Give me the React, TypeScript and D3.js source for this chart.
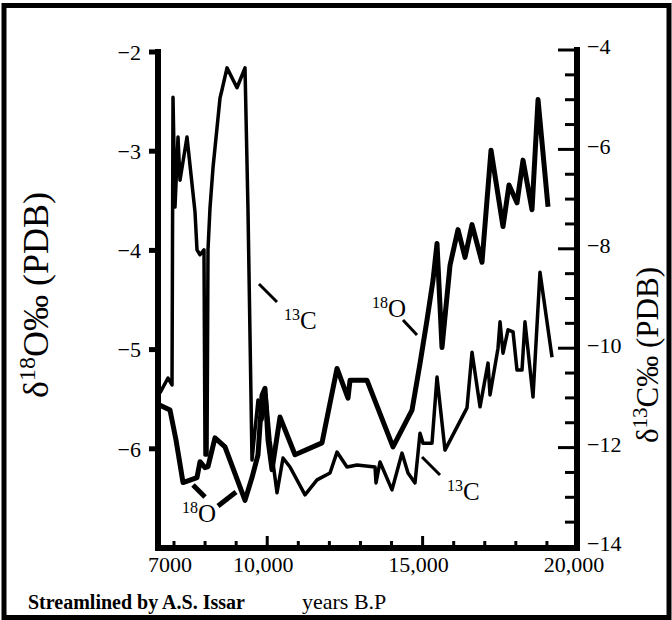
import React from 'react';
import * as d3 from 'd3';

// δ18O (thick line, left axis)
const o18Years = [
  6549, 6871, 7064, 7290, 7740, 7837, 7998, 8094, 8319, 8641, 9285, 9510, 9703, 9832, 9928,
  10025, 10154, 10411, 10894, 11763, 12245, 12599, 12664, 13211, 14047, 14659, 14916, 15142,
  15335, 15463, 15624, 15882, 16139, 16364, 16590, 16911, 17201, 17587, 17780, 18037, 18231,
  18520, 18714, 19035,
];
const o18Values = [
  -5.56, -5.61, -5.91, -6.34, -6.29, -6.13, -6.19, -6.18, -5.89, -5.98, -6.52, -6.29, -6.06, -5.46, -5.39,
  -5.91, -6.21, -5.68, -6.06, -5.94, -5.19, -5.49, -5.31, -5.31, -5.98, -5.61, -5.14, -4.7,
  -4.3, -3.93, -4.98, -4.15, -3.79, -4.07, -3.74, -4.12, -2.99, -3.76, -3.34, -3.52, -3.09,
  -3.59, -2.48, -3.56,
];

// δ13C (thinner line, right axis)
const c13Years = [
  6549, 6807, 6936, 6968, 7032, 7129, 7193, 7418, 7676, 7740, 7837, 7965, 7998, 8062, 8094,
  8158, 8255, 8480, 8545, 8706, 9027, 9285, 9381, 9510, 9703, 9832, 9961, 10089, 10315, 10508,
  10733, 11216, 11602, 12020, 12245, 12567, 12889, 13468, 13500, 13629, 14015, 14337, 14530,
  14755, 14916, 15013, 15302, 15463, 15720, 16428, 16590, 16847, 17105, 17169, 17426, 17491,
  17587, 17748, 17909, 18037, 18198, 18294, 18552, 18777, 19164,
];
const c13Values = [
  -10.9, -10.6, -10.74, -4.95, -7.16, -5.75, -6.62, -5.75, -7.26, -8.02, -8.12, -8.02, -12.15, -12.15, -8.02,
  -7.18, -6.37, -4.97, -4.8, -4.36, -4.76, -4.36, -7.22, -12.25, -11.04, -11.44, -10.94, -11.85, -12.91, -12.21,
  -12.39, -12.95, -12.65, -12.51, -12.09, -12.39, -12.35, -12.39, -12.71, -12.29, -12.85, -12.11, -12.51,
  -12.71, -11.71, -11.91, -11.91, -10.58, -12.05, -11.2, -10.08, -11.18, -10.3, -10.94, -10, -9.47,
  -10.1, -9.63, -9.67, -10.44, -10.44, -9.47, -10.98, -8.47, -10.18,
];

const yearTickValues = d3.range(7000, 20001, 1000);
const yearLabelValues = [7000, 10000, 15000, 20000];
const yearLabels = ['7000', '10,000', '15,000', '20,000'];
const o18TickValues = [-2, -3, -4, -5, -6];
const c13TickValues = d3.range(-14, -3.99, 0.5);
const c13LabelValues = [-4, -6, -8, -10, -12, -14];

const FONT = '"Liberation Serif", "Times New Roman", serif';
const minus = (v: number) => (v < 0 ? '\u2212' + Math.abs(v) : String(v));

export default function App() {
  const x = d3.scaleLinear().domain([7000, 20000]).range([174, 578]);
  const yO = d3.scaleLinear().domain([-2, -7]).range([52, 548]);
  const yC = d3.scaleLinear().domain([-4, -14]).range([50, 547]);

  const o18Line = d3.line<number>()
    .x((_, i) => x(o18Years[i]))
    .y(d => yO(d));
  const c13Line = d3.line<number>()
    .x((_, i) => x(c13Years[i]))
    .y(d => yC(d));

  const axisBottomY = yO(-7);
  const leftX = 158;
  const rightX = 577;

  return (
    <div style={{ position: 'absolute', left: 0, top: 0 }}>
      <svg width={672} height={620} style={{ display: 'block', background: '#fff' }} fontFamily={FONT}>
        {/* frame */}
        <rect x={4} y={5.5} width={665} height={612} fill="none" stroke="#000" strokeWidth={5} />

        {/* series */}
        <path d={c13Line(c13Values) || ''} fill="none" stroke="#000" strokeWidth={3.5} strokeLinejoin="round" />
        <path d={o18Line(o18Values) || ''} fill="none" stroke="#000" strokeWidth={5} strokeLinejoin="round" />

        {/* left axis */}
        <line x1={leftX} x2={leftX} y1={49} y2={axisBottomY + 3} stroke="#000" strokeWidth={6} />
        {o18TickValues.map(v => (
          <g key={'lo' + v}>
            <line x1={149} x2={leftX} y1={yO(v)} y2={yO(v)} stroke="#000" strokeWidth={5} />
            <text x={141} y={yO(v)} dy="0.35em" textAnchor="end" fontSize={22}>{minus(v)}</text>
          </g>
        ))}

        {/* right axis */}
        <line x1={rightX} x2={rightX} y1={47} y2={axisBottomY + 3} stroke="#000" strokeWidth={6} />
        {c13TickValues.map(v => {
          const major = c13LabelValues.includes(v);
          return (
            <line key={'rc' + v} x1={rightX - (major ? 19 : 12)} x2={rightX} y1={yC(v)} y2={yC(v)}
              stroke="#000" strokeWidth={3} />
          );
        })}
        {c13LabelValues.map(v => (
          <text key={'rl' + v} x={587} y={yC(v)} dy="0.2em" textAnchor="start" fontSize={22}>{minus(v)}</text>
        ))}

        {/* bottom axis */}
        <line x1={155} x2={rightX + 3} y1={axisBottomY} y2={axisBottomY} stroke="#000" strokeWidth={6} />
        {yearTickValues.map(v => {
          const major = v % 5000 === 0;
          return (
            <line key={'bt' + v} x1={x(v)} x2={x(v)} y1={axisBottomY} y2={axisBottomY - (major ? 12 : 7)}
              stroke="#000" strokeWidth={3} />
          );
        })}
        {yearLabelValues.map((v, i) => (
          <text key={'bl' + v} x={x(v) - 4} y={572} textAnchor="middle" fontSize={22}>{yearLabels[i]}</text>
        ))}

        {/* axis titles */}
        <text transform="translate(48,295) rotate(-90)" textAnchor="middle" fontSize={36}>
          δ<tspan fontSize={24} dy={-13}>18</tspan><tspan dy={13}>O‰ (PDB)</tspan>
        </text>
        <text transform="translate(658,355) rotate(-90)" textAnchor="middle" fontSize={31}>
          δ<tspan fontSize={21} dy={-11}>13</tspan><tspan dy={11}>C‰ (PDB)</tspan>
        </text>

        {/* annotations */}
        <line x1={259} y1={284} x2={277} y2={302} stroke="#000" strokeWidth={3} />
        <text x={284} y={329} fontSize={25}><tspan fontSize={16} dy={-9}>13</tspan><tspan dy={9}>C</tspan></text>

        <line x1={403} y1={320} x2={417} y2={335} stroke="#000" strokeWidth={3} />
        <text x={372} y={317} fontSize={25}><tspan fontSize={16} dy={-9}>18</tspan><tspan dy={9}>O</tspan></text>

        <line x1={422} y1={457} x2={440} y2={475} stroke="#000" strokeWidth={3} />
        <text x={447} y={500} fontSize={25}><tspan fontSize={16} dy={-9}>13</tspan><tspan dy={9}>C</tspan></text>

        <line x1={193} y1={485} x2={205} y2={497} stroke="#000" strokeWidth={5} />
        <line x1={218} y1={506} x2={236} y2={492} stroke="#000" strokeWidth={5} />
        <text x={182} y={522} fontSize={25}><tspan fontSize={16} dy={-9}>18</tspan><tspan dy={9}>O</tspan></text>

        {/* footer */}
        <text x={28} y={609} fontSize={20} fontWeight="bold">Streamlined by A.S. Issar</text>
        <text x={302} y={609} fontSize={22}>years B.P</text>
      </svg>
    </div>
  );
}
